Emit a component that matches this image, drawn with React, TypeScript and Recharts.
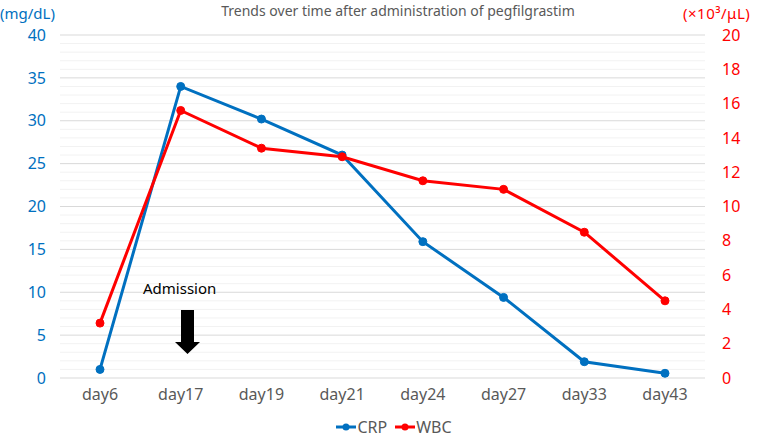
import React from "react";
import {
  LineChart, Line, XAxis, YAxis, CartesianGrid, ReferenceLine,
} from "recharts";

document.body.style.margin = "0";

const days = ["day6", "day17", "day19", "day21", "day24", "day27", "day33", "day43"];
const crp = [1.0, 34.0, 30.2, 26.0, 15.9, 9.4, 1.9, 0.55];
const wbc = [3.2, 15.6, 13.4, 12.9, 11.5, 11.0, 8.5, 4.5];

const leftTicks = [0, 5, 10, 15, 20, 25, 30, 35, 40];
const rightTicks = [0, 2, 4, 6, 8, 10, 12, 14, 16, 18, 20];
// faint minor lines every 1 mg/dL between the major ones
const minorTicks = Array.from({ length: 41 }, (_, i) => i).filter((v) => v % 5 !== 0);

const data = days.map((d, i) => ({ day: d, CRP: crp[i], WBC: wbc[i] }));

const BLUE = "#0070C0";
const RED = "#FF0000";
const FONT = "'Noto Sans', sans-serif";

function LegendRow() {
  const items = [
    { name: "CRP", color: BLUE },
    { name: "WBC", color: RED },
  ];
  return (
    <div style={{ position: "absolute", top: 418, left: 0, width: 780, height: 18, display: "flex", justifyContent: "center", gap: 8, fontSize: 16, color: "#595959", lineHeight: "18px", paddingLeft: 4 }}>
      {items.map((it) => (
        <span key={it.name} style={{ display: "flex", alignItems: "center", gap: 1 }}>
          <svg width={20} height={10}>
            <line x1={0} y1={5} x2={20} y2={5} stroke={it.color} strokeWidth={3} />
            <circle cx={10} cy={5} r={3.5} fill={it.color} />
          </svg>
          {it.name}
        </span>
      ))}
    </div>
  );
}

export default function App() {
  return (
    <div style={{ position: "relative", width: 780, height: 439, background: "#fff", fontFamily: FONT, overflow: "hidden" }}>
      <div style={{ position: "absolute", top: 1, left: 8, width: 780, textAlign: "center", fontSize: 14, color: "#595959" }}>
        Trends over time after administration of pegfilgrastim
      </div>
      <div style={{ position: "absolute", top: 3, left: 0, fontSize: 15, color: BLUE }}>(mg/dL)</div>
      <div style={{ position: "absolute", top: 3, left: 683, fontSize: 15, color: RED, letterSpacing: 0.5 }}>(×10³/μL)</div>

      <LineChart width={780} height={439} data={data} margin={{ top: 35, right: 0, bottom: 31, left: 0 }}>
        {minorTicks.map((v) => (
          <ReferenceLine key={v} yAxisId="left" y={v} stroke="#f2f2f2" strokeWidth={1} />
        ))}
        <CartesianGrid yAxisId="left" vertical={false} stroke="#d9d9d9" />
        <XAxis
          dataKey="day"
          padding={{ left: 40, right: 40 }}
          axisLine={false}
          tickLine={false}
          tickSize={0}
          tickMargin={11}
          tick={{ fill: "#595959", fontSize: 16, fontFamily: FONT }}
          height={30}
        />
        <YAxis
          yAxisId="left"
          orientation="left"
          domain={[0, 40]}
          ticks={leftTicks}
          width={60}
          axisLine={false}
          tickLine={false}
          tickSize={0}
          tickMargin={14}
          tick={{ fill: BLUE, fontSize: 16, fontFamily: FONT }}
        />
        <YAxis
          yAxisId="right"
          orientation="right"
          domain={[0, 20]}
          ticks={rightTicks}
          width={75}
          axisLine={false}
          tickLine={false}
          tickSize={0}
          tickMargin={17}
          tick={{ fill: RED, fontSize: 16, fontFamily: FONT, textAnchor: "start" }}
        />
        <Line
          yAxisId="left"
          dataKey="CRP"
          stroke={BLUE}
          strokeWidth={3}
          dot={{ r: 4, fill: BLUE, stroke: BLUE, strokeWidth: 1 }}
          isAnimationActive={false}
        />
        <Line
          yAxisId="right"
          dataKey="WBC"
          stroke={RED}
          strokeWidth={3}
          dot={{ r: 4, fill: RED, stroke: RED, strokeWidth: 1 }}
          isAnimationActive={false}
        />
      </LineChart>

      <LegendRow />

      <div style={{ position: "absolute", top: 278, left: 143, fontSize: 15, color: "#000" }}>Admission</div>
      <svg style={{ position: "absolute", top: 0, left: 0 }} width={780} height={439} pointerEvents="none">
        <polygon points="181,310 194,310 194,342 200,342 187.5,354 175,342 181,342" fill="#000" />
      </svg>
    </div>
  );
}
